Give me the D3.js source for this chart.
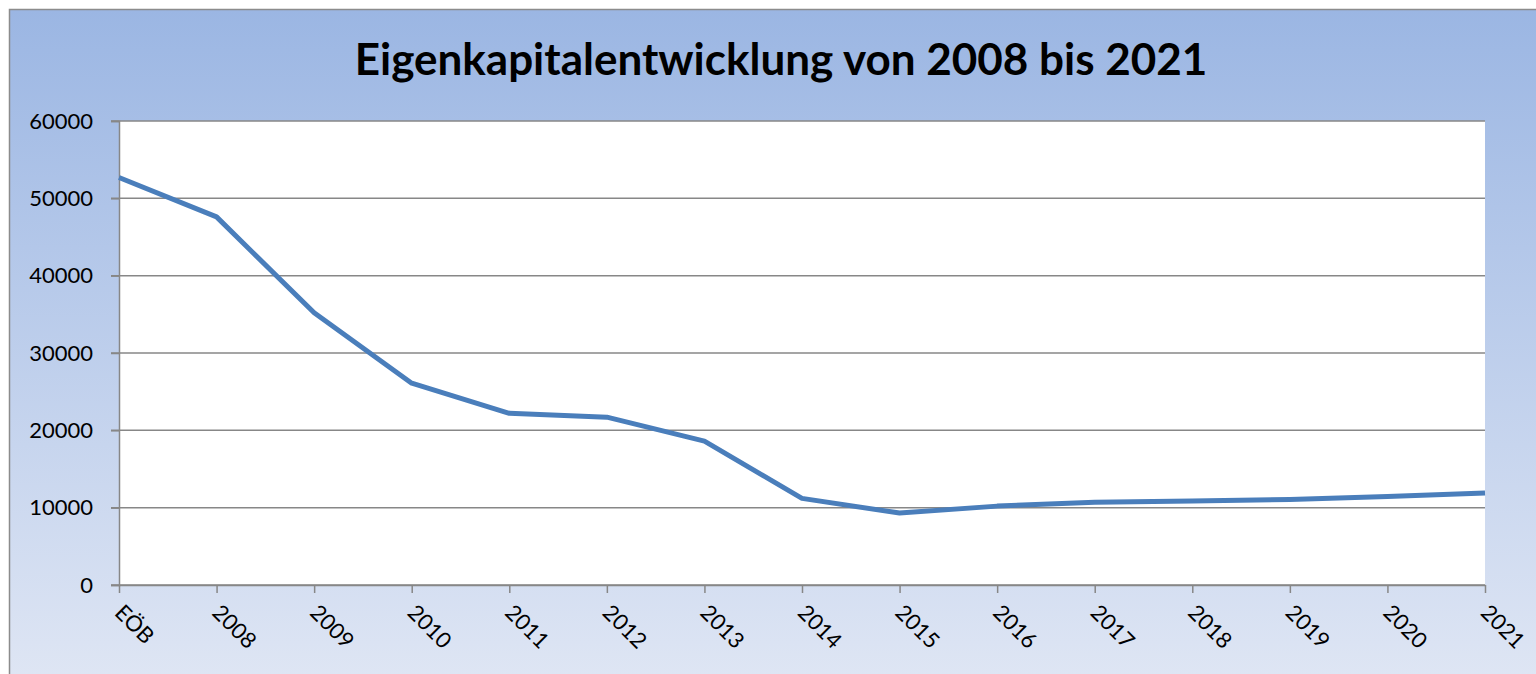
<!DOCTYPE html>
<html>
<head>
<meta charset="utf-8">
<script src="https://cdn.jsdelivr.net/npm/d3@7"></script>
<style>
  body { margin: 0; background: #fff; overflow: hidden; }
  text { font-family: Lato, "Open Sans", sans-serif; }
</style>
</head>
<body>
<div id="chart"></div>
<script>
// Categories and values
var categories = ["EÖB", "2008", "2009", "2010", "2011", "2012", "2013", "2014",
                  "2015", "2016", "2017", "2018", "2019", "2020", "2021"];
var values = [52700, 47600, 35200, 26100, 22200, 21700, 18600, 11200,
              9300, 10200, 10700, 10850, 11050, 11450, 11900];
var yTicks = [0, 10000, 20000, 30000, 40000, 50000, 60000];

var W = 1536, H = 674;
var margin = {top: 121, left: 119, right: 51, bottom: 89};
var width = W - margin.left - margin.right,
    height = H - margin.top - margin.bottom;

var svg = d3.select("#chart").append("svg")
    .attr("width", W)
    .attr("height", H);

// background gradient
var grad = svg.append("defs").append("linearGradient")
    .attr("id", "bg")
    .attr("x1", 0).attr("y1", 0).attr("x2", 0).attr("y2", 1);
grad.append("stop").attr("offset", "0%").attr("stop-color", "#9bb6e3");
grad.append("stop").attr("offset", "100%").attr("stop-color", "#dfe6f4");

svg.append("rect")
    .attr("x", 9.5).attr("y", 9.5)
    .attr("width", W).attr("height", H)
    .attr("fill", "url(#bg)")
    .attr("stroke", "#8c8c8c")
    .attr("stroke-width", 1.5);

// title
svg.append("text")
    .attr("x", 781)
    .attr("y", 75)
    .attr("text-anchor", "middle")
    .style("font-size", "44px")
    .style("font-weight", "bold")
    .text("Eigenkapitalentwicklung von 2008 bis 2021");

var g = svg.append("g")
    .attr("transform", "translate(" + margin.left + "," + margin.top + ")");

var x = d3.scalePoint().domain(categories).range([0, width]);
var y = d3.scaleLinear().domain([0, 60000]).range([height, 0]);

// plot area
g.append("rect")
    .attr("width", width).attr("height", height)
    .attr("fill", "#fff");

// gridlines
g.selectAll(".grid")
    .data(yTicks)
    .enter().append("line")
    .attr("x1", -8).attr("x2", width)
    .attr("y1", function(d) { return y(d); })
    .attr("y2", function(d) { return y(d); })
    .attr("stroke", "#878787")
    .attr("stroke-width", 1.5);

// y axis
var yAxis = g.append("g")
    .call(d3.axisLeft(y).tickValues(yTicks).tickSize(8).tickPadding(18).tickFormat(d3.format("d")));
yAxis.select(".domain").attr("stroke", "#878787").attr("stroke-width", 1.5);
yAxis.selectAll(".tick line").attr("stroke", "#878787").attr("stroke-width", 1.5);
yAxis.selectAll("text").style("font-size", "22px").attr("fill", "#000");

// x axis
var xAxis = g.append("g")
    .attr("transform", "translate(0," + height + ")")
    .call(d3.axisBottom(x).tickSize(8).tickSizeOuter(0));
xAxis.select(".domain").attr("stroke", "#878787").attr("stroke-width", 1.5);
xAxis.selectAll(".tick line").attr("stroke", "#878787").attr("stroke-width", 1.5);
xAxis.selectAll("text")
    .style("font-size", "22px")
    .attr("fill", "#000")
    .attr("text-anchor", "start")
    .attr("dy", null)
    .attr("y", 0)
    .attr("transform", "translate(-6,29) rotate(45)");

// the line
var line = d3.line()
    .x(function(d, i) { return x(categories[i]); })
    .y(function(d) { return y(d); });

g.append("path")
    .datum(values)
    .attr("fill", "none")
    .attr("stroke", "#4a7ebb")
    .attr("stroke-width", 5)
    .attr("stroke-linejoin", "round")
    .attr("d", line);
</script>
</body>
</html>
